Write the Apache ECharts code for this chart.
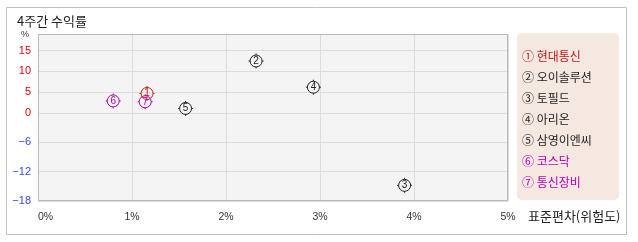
<!DOCTYPE html>
<html><head><meta charset="utf-8">
<script src="https://cdn.jsdelivr.net/npm/echarts@6/dist/echarts.min.js"></script>
<style>html,body{margin:0;padding:0;background:#fff}#c{width:638px;height:242px}</style>
</head><body><div id="c"></div>
<script>
const names = ['현대통신','오이솔루션','토필드','아리온','삼영이엔씨','코스닥','통신장비'];
const marks = ['①','②','③','④','⑤','⑥','⑦'];
const risk = [1.16, 2.32, 3.90, 2.93, 1.57, 0.80, 1.14];
const ret = [4.7, 12.5, -14.8, 6.2, 1.1, 2.9, 2.7];
const colors = ['#b52020','#222222','#222222','#222222','#222222','#b000b8','#b000b8'];
const legendColors = ['#c01818','#222222','#222222','#222222','#222222','#b000b8','#b000b8'];
const xTicks = [0,1,2,3,4,5];
const yPosTicks = [0,5,10,15];
const yNegTicks = [-18,-12,-6,0];

const FONT = '"Noto Sans CJK KR", sans-serif';
const NUMFONT = '"Liberation Sans", Arial, sans-serif';
const symPath = 'path://M0,-7.5L0,-6M0,6L0,7.5M-7.5,0L-6,0M6,0L7.5,0M6,0A6,6,0,1,1,-6,0A6,6,0,1,1,6,0Z';

const L = 38, W = 470;
const chart = echarts.init(document.getElementById('c'), null, {renderer:'canvas'});
const grids = [
  {left:L, width:W, top:34, height:79, show:true, backgroundColor:'#f4f4f4', borderWidth:0},
  {left:L, width:W, top:113, height:88, show:true, backgroundColor:'#f4f4f4', borderWidth:0}
];
const xAxisBase = (gi, showLabel) => ({
  type:'value', gridIndex:gi, position:'bottom', min:xTicks[0], max:xTicks[xTicks.length-1], interval:1,
  axisLine:{show:false, onZero:false}, axisTick:{show:false},
  splitLine:{show:true, lineStyle:{color:'#dcdcdc', width:1}},
  axisLabel:{show:showLabel, formatter:'{value}%', color:'#333', fontFamily:NUMFONT, fontSize:10.5, margin:11, alignMinLabel:'left'},
  name: showLabel ? '표준편차(위험도)' : '', nameLocation:'end', nameGap:20,
  nameTextStyle:{color:'#222', fontFamily:FONT, fontSize:13, verticalAlign:'top', align:'left', padding:[9,0,0,0]}
});
const series = names.map((n,i)=>({
  name:n, type:'scatter',
  xAxisIndex: ret[i] >= 0 ? 0 : 1, yAxisIndex: ret[i] >= 0 ? 0 : 1,
  data:[[risk[i], ret[i]]],
  symbol:symPath, symbolSize:15,
  itemStyle:{color:'rgba(0,0,0,0)', borderColor:colors[i], borderWidth:1, opacity:1},
  label:{show:true, position:'inside', formatter:String(i+1), color:colors[i], fontSize:10, fontFamily:NUMFONT},
  emphasis:{disabled:true}, z: 10 - i
}));
chart.setOption({
  animation:false,
  textStyle:{fontFamily:FONT},
  title:{text:'4주간 수익률', left:12, top:10, textStyle:{fontFamily:FONT, fontSize:13, fontWeight:'normal', color:'#222'}},
  grid:grids,
  xAxis:[xAxisBase(0,false), xAxisBase(1,true)],
  yAxis:[
    {type:'value', gridIndex:0, min:0, max:19, interval:5,
     axisLine:{show:false, onZero:false}, axisTick:{show:false},
     splitLine:{show:true, lineStyle:{color:'#dcdcdc'}},
     axisLabel:{color:'#ee0000', fontFamily:NUMFONT, fontSize:11, margin:7,
       formatter:(v)=> yPosTicks.indexOf(v) >= 0 ? String(v) : ''},
     name:'%', nameLocation:'end', nameGap:-1,
     nameTextStyle:{color:'#333', fontFamily:NUMFONT, fontSize:9, align:'right', verticalAlign:'middle', padding:[0,9,0,0]}},
    {type:'value', gridIndex:1, min:yNegTicks[0], max:0, interval:6,
     axisLine:{show:false, onZero:false}, axisTick:{show:false},
     splitLine:{show:true, lineStyle:{color:'#dcdcdc'}},
     axisLabel:{color:'#3344ee', fontFamily:NUMFONT, fontSize:11, margin:7, showMaxLabel:false,
       formatter:(v)=> yNegTicks.indexOf(v) >= 0 && v !== 0 ? String(v).replace('-','−') : ''}}
  ],
  legend:{
    orient:'vertical', left:517, top:49, padding:0,
    icon:'none', itemWidth:0, itemHeight:14, itemGap:7, selectedMode:false,
    data: names.map((n,i)=>({name:n, textStyle:{color:legendColors[i]}})),
    formatter:(n)=> marks[names.indexOf(n)] + ' ' + n,
    textStyle:{fontFamily:FONT, fontSize:12, lineHeight:14}
  },
  graphic:[
    {type:'rect', shape:{x:6.5, y:7.5, width:620, height:227}, style:{fill:'none', stroke:'#c0c0c0', lineWidth:1}, z:0, silent:true},
    {type:'rect', shape:{x:517, y:33, width:102, height:167, r:5}, style:{fill:'#f5e8e1'}, z:-1, silent:true},
    {type:'rect', shape:{x:L+0.5, y:34.5, width:W-1, height:166}, style:{fill:'none', stroke:'#b8b8b8', lineWidth:1}, z:5, silent:true}
  ],
  series: series
});
</script></body></html>
